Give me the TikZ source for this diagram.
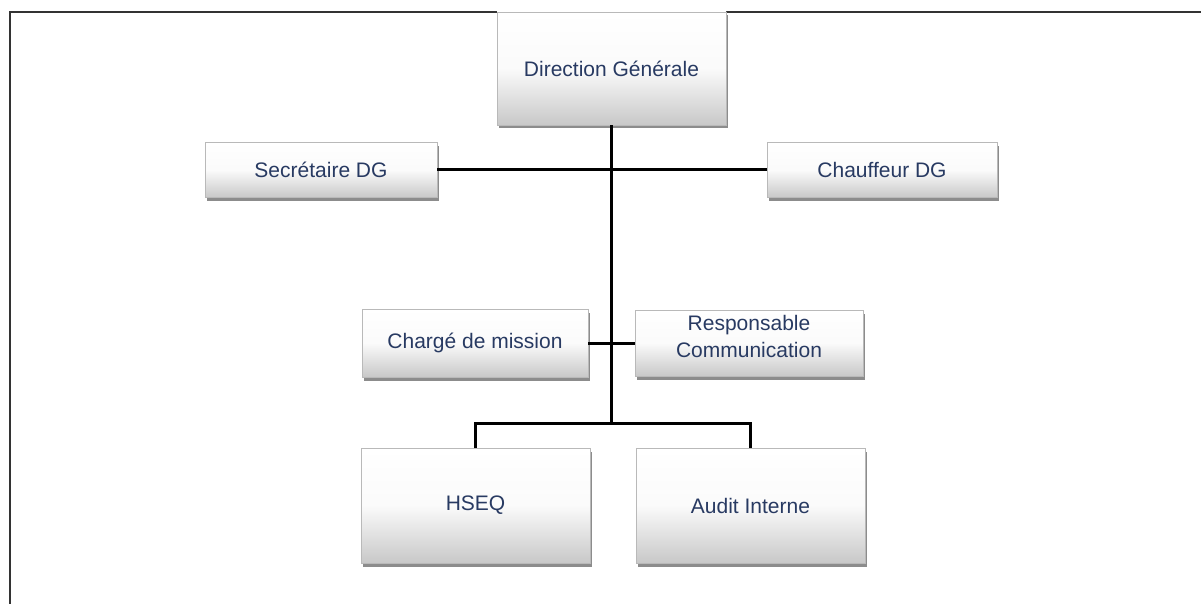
\documentclass[tikz,border=0pt]{standalone}
\usepackage{fontspec}
\setmainfont{Liberation Sans}
\usetikzlibrary{shadows}
\definecolor{txtblue}{RGB}{40,58,98}
\definecolor{boxbot}{RGB}{200,200,200}
\tikzset{
  orgbox/.style={rectangle, draw=gray!55, line width=0.8pt,
    top color=white, bottom color=boxbot, middle color=white!92!boxbot,
    drop shadow={shadow xshift=1.5pt, shadow yshift=-3.5pt, fill=black!60, opacity=0.75},
    text=txtblue, align=center, inner sep=2pt,
    font=\fontsize{21}{26}\selectfont},
  link/.style={line width=3pt, black},
  frame/.style={line width=2pt, black!80}
}
\begin{document}
\begin{tikzpicture}[x=1pt,y=-1pt]
\useasboundingbox (0,0) rectangle (1201,604);
\fill[white] (0,0) rectangle (1201,604);
\draw[frame] (10,604) -- (10,12) -- (1201,12);

\node[orgbox, minimum width=229pt, minimum height=113pt] (dg) at (611.5,68.5) {Direction Générale};
\node[orgbox, minimum width=232pt, minimum height=55pt] (sec) at (321,170) {Secrétaire DG};
\node[orgbox, minimum width=230pt, minimum height=55pt] (ch) at (882,170) {Chauffeur DG};
\node[orgbox, minimum width=226pt, minimum height=68pt] (cm) at (475,343) {Chargé de mission};
\node[orgbox, minimum width=228pt, minimum height=66pt, text depth=14pt] (rc) at (749,343) {Responsable\\[1pt]Communication};
\node[orgbox, minimum width=229pt, minimum height=115pt] (hseq) at (475.5,505.5) {HSEQ};
\node[orgbox, minimum width=229pt, minimum height=115pt] (ai) at (750.5,505.5) {Audit Interne};

\coordinate (j) at (611.5,424);
\draw[link] (dg.south) -- (j);
\draw[link] (sec.east) -- (ch.west);
\draw[link] (cm.east) -- (rc.west);
\draw[link, line join=miter] (hseq.north) -- ++(0,-24) -| (ai.north);
\end{tikzpicture}
\end{document}
